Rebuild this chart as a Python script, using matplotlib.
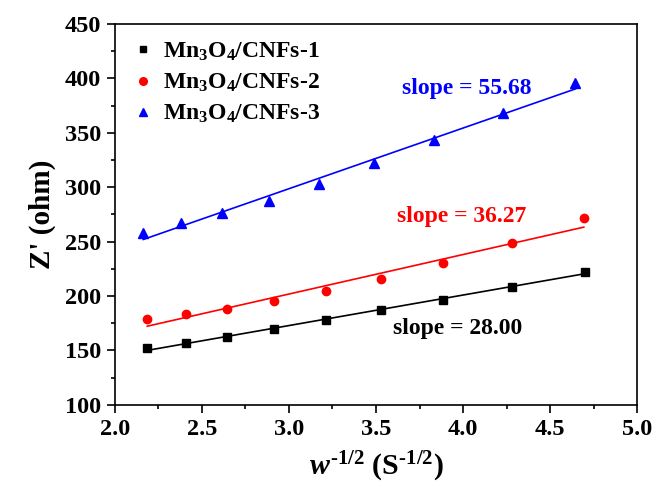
import numpy as np
import matplotlib
matplotlib.use("Agg")
import matplotlib.pyplot as plt
from matplotlib.lines import Line2D

plt.rcParams['font.family'] = ['Liberation Serif', 'DejaVu Serif']
plt.rcParams['font.weight'] = 'bold'
plt.rcParams['mathtext.fontset'] = 'custom'
plt.rcParams['mathtext.rm'] = 'Liberation Serif:bold'
plt.rcParams['mathtext.it'] = 'Liberation Serif:bold:italic'
plt.rcParams['mathtext.bf'] = 'Liberation Serif:bold'

# Data
x_1 = [2.187, 2.410, 2.647, 2.914, 3.211, 3.529, 3.885, 4.278, 4.697]
y_1 = [151.9, 156.5, 162.6, 169.7, 177.7, 186.9, 196.6, 208.6, 222.3]
x_2 = [2.187, 2.410, 2.647, 2.914, 3.211, 3.529, 3.885, 4.278, 4.693]
y_2 = [178.9, 183.5, 188.3, 195.1, 204.6, 215.9, 230.0, 248.4, 271.4]
x_3 = [2.164, 2.379, 2.618, 2.883, 3.170, 3.490, 3.835, 4.228, 4.645]
y_3 = [258.2, 266.8, 276.6, 287.6, 302.9, 322.5, 343.4, 367.9, 396.0]
labels = [r'Mn$_3$O$_4$/CNFs-1', r'Mn$_3$O$_4$/CNFs-2', r'Mn$_3$O$_4$/CNFs-3']
slope_texts = ['slope = 28.00', 'slope = 36.27', 'slope = 55.68']
colors = ['black', '#ff0000', '#0000ff']
markers = ['s', 'o', '^']
msizes = [5.5, 6.0, 6.5]
text_pos = [(3.60, 170.3), (3.62, 272.9), (3.649, 390.9)]

fig = plt.figure(figsize=(6.57, 4.90), dpi=100)
ax = fig.add_axes([0.1746, 0.1739, 0.7954, 0.7771])

handles = []
for xs, ys, c, m, ms, lab, st, tp in zip([x_1, x_2, x_3], [y_1, y_2, y_3], colors,
                                         markers, msizes, labels, slope_texts, text_pos):
    xs = np.array(xs); ys = np.array(ys)
    k, b = np.polyfit(xs, ys, 1)
    xl = np.array([xs[0], xs[-1]])
    ax.plot(xl, k * xl + b, color=c, lw=1.2, zorder=2)
    ax.plot(xs, ys, linestyle='none', marker=m, color=c, markersize=ms, zorder=3)
    handles.append(Line2D([], [], linestyle='none', marker=m, color=c, markersize=ms - 0.5, label=lab))
    ax.text(tp[0], tp[1], st, color=c, fontsize=17, fontweight='bold', va='center', ha='left')

ax.set_xlim(2.0, 5.0)
ax.set_ylim(100, 450)
ax.set_xticks(np.arange(2.0, 5.01, 0.5))
ax.set_xticks(np.arange(2.25, 5.0, 0.5), minor=True)
ax.set_yticks(np.arange(100, 451, 50))
ax.set_yticks(np.arange(125, 450, 50), minor=True)
ax.set_xticklabels(['%.1f' % v for v in np.arange(2.0, 5.01, 0.5)])
ax.tick_params(which='major', direction='out', length=6, width=1.2, labelsize=17.5, pad=4)
ax.tick_params(which='minor', direction='out', length=3, width=1.2)
ax.tick_params(top=False, right=False)
for lbl in ax.get_xticklabels() + ax.get_yticklabels():
    lbl.set_fontweight('bold')
for sp in ax.spines.values():
    sp.set_linewidth(1.2)

ax.set_xlabel(r'$w^{\text{-1/2}}$ (S$^{\text{-1/2}}$)', fontsize=21.5, fontweight='bold', labelpad=7)
ax.set_ylabel("Z' (ohm)", fontsize=21, fontweight='bold', labelpad=6)

leg = ax.legend(handles=handles, loc='upper left', frameon=False,
                handlelength=1.0, handletextpad=0.35, labelspacing=0.38,
                borderaxespad=0.3, prop={'weight': 'bold', 'size': 17})

fig.savefig('out.png', dpi=100)
